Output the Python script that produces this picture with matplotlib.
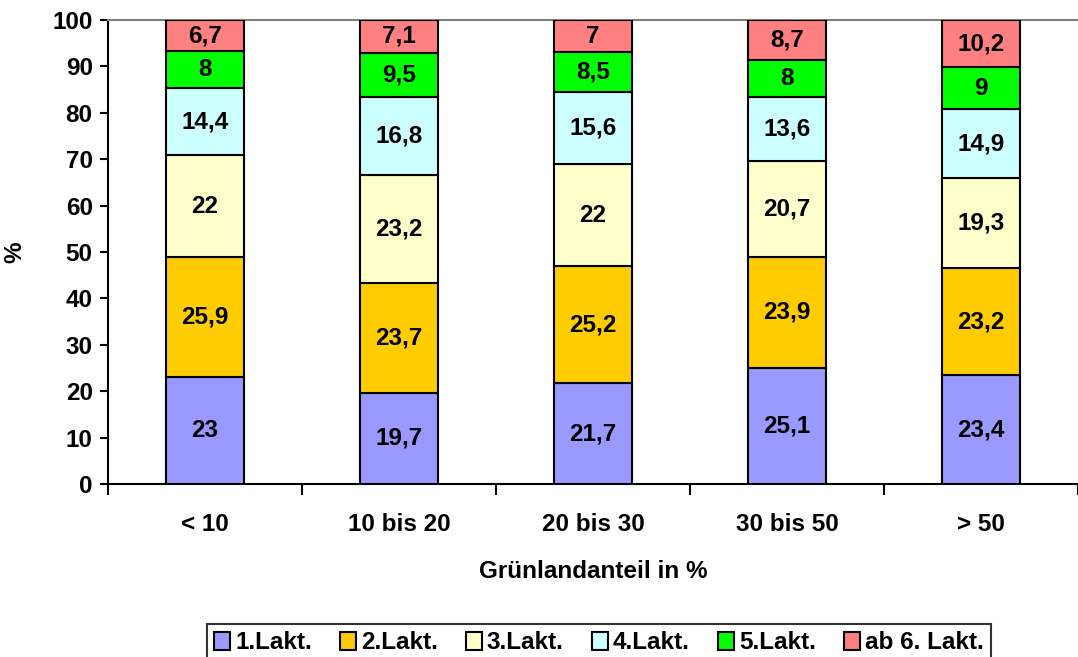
import matplotlib.pyplot as plt
import numpy as np

# Data
categories = ['< 10', '10 bis 20', '20 bis 30', '30 bis 50', '> 50']
series_names = ['1.Lakt.', '2.Lakt.', '3.Lakt.', '4.Lakt.', '5.Lakt.', 'ab 6. Lakt.']
lakt1 = [23, 19.7, 21.7, 25.1, 23.4]
lakt2 = [25.9, 23.7, 25.2, 23.9, 23.2]
lakt3 = [22, 23.2, 22, 20.7, 19.3]
lakt4 = [14.4, 16.8, 15.6, 13.6, 14.9]
lakt5 = [8, 9.5, 8.5, 8, 9]
lakt6 = [6.7, 7.1, 7, 8.7, 10.2]
colors = ['#9999FF', '#FFCC00', '#FFFFCC', '#CCFFFF', '#00FF00', '#FF8080']

plt.rcParams['font.family'] = ['Liberation Sans', 'DejaVu Sans']
plt.rcParams['font.weight'] = 'bold'
fs = 17.5

fig = plt.figure(figsize=(10.78, 6.57), dpi=100)
ax = fig.add_axes([108 / 1078, 1 - 484 / 657, 970 / 1078, 464 / 657])

x = np.arange(len(categories))
bottom = np.zeros(len(categories))
for name, vals, col in zip(series_names, [lakt1, lakt2, lakt3, lakt4, lakt5, lakt6], colors):
    vals = np.array(vals)
    ax.bar(x, vals, 0.4, bottom=bottom, color=col, edgecolor='black',
           linewidth=1.5, label=name, zorder=3)
    for xi, b, v in zip(x, bottom, vals):
        ax.text(xi, b + v / 2, f'{v:g}'.replace('.', ','), ha='center', va='center',
                fontsize=fs, fontweight='bold', zorder=4)
    bottom += vals

ax.set_xlim(-0.5, 4.5)
ax.set_ylim(0, 100)
ax.set_yticks(range(0, 101, 10))
ax.tick_params(axis='y', labelsize=fs, length=6, width=1.5, direction='out', pad=5)

# category separators as major ticks, labels as minor ticks
ax.set_xticks(np.arange(-0.5, 5, 1))
ax.set_xticklabels([])
ax.set_xticks(x, minor=True)
ax.set_xticklabels(categories, minor=True, fontsize=fs, fontweight='bold')
ax.tick_params(axis='x', which='major', length=8, width=1.5, direction='out')
ax.tick_params(axis='x', which='minor', length=0, pad=21)

ax.spines['right'].set_visible(False)
ax.spines['top'].set_color('#808080')
ax.spines['top'].set_linewidth(1.5)
ax.spines['left'].set_linewidth(1.5)
ax.spines['bottom'].set_linewidth(1.5)

ax.set_xlabel('Grünlandanteil in %', fontsize=fs, fontweight='bold', labelpad=17)
ax.set_ylabel('%', fontsize=fs, fontweight='bold')
ax.yaxis.set_label_coords(-82 / 970, 0.5)

leg = fig.legend(loc='upper center', bbox_to_anchor=(599 / 1078, 1 - 612 / 657), ncol=6,
                 fontsize=fs, frameon=True, fancybox=False, edgecolor='black',
                 handlelength=0.65, handleheight=0.8, handletextpad=0.2,
                 columnspacing=1.17, borderpad=0.3)
leg.get_frame().set_linewidth(1.5)

fig.savefig('out.png', dpi=100)
